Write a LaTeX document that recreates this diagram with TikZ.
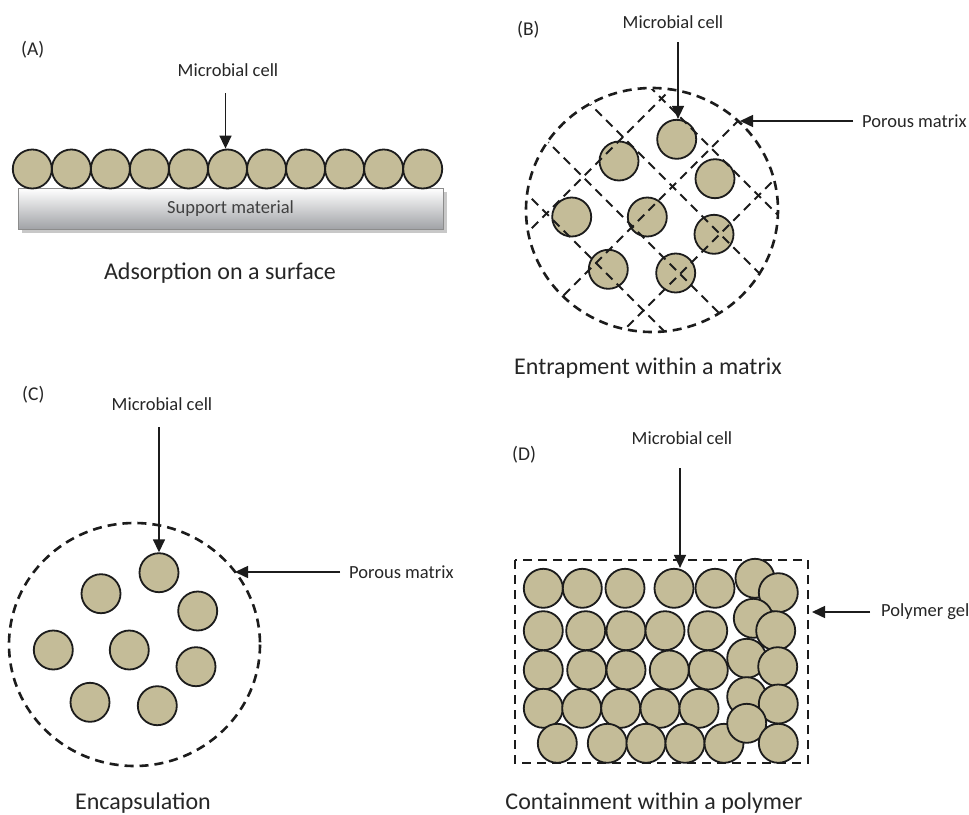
\documentclass[tikz,border=0pt]{standalone}
\usepackage{fontspec}
\setmainfont{Carlito}
\usetikzlibrary{arrows.meta,shadows}
\definecolor{cellfill}{RGB}{196,188,152}
\definecolor{ink}{RGB}{28,28,28}
\definecolor{txt}{RGB}{38,38,38}
\definecolor{supbot}{RGB}{160,162,166}
\definecolor{supedge}{RGB}{140,140,140}
\definecolor{supshadow}{RGB}{200,200,200}
\begin{document}
\begin{tikzpicture}[x=1pt,y=-1pt,
 cell/.style={circle,draw=ink,line width=1.8pt,fill=cellfill,minimum size=39pt,inner sep=0pt},
 lbl/.style={font=\fontsize{18.5}{20}\selectfont,text=txt,inner sep=0pt},
 captxt/.style={font=\fontsize{24}{26}\selectfont,text=txt,inner sep=0pt},
 tagtxt/.style={font=\fontsize{19.5}{22}\selectfont,text=txt,inner sep=0pt,anchor=west},
 arr/.style={draw=ink,line width=1.5pt,-{Triangle[length=13pt,width=12pt]}},
 dashb/.style={draw=ink,line width=2.6pt,dash pattern=on 9pt off 6pt},
 gridl/.style={draw=ink,line width=2pt,dash pattern=on 9pt off 6pt},
]
\useasboundingbox[fill=white] (0,0) rectangle (969,814);

% ---------------- Panel A ----------------
\node[tagtxt] (tA) at (21,50) {(A)};
\node[rectangle,draw=supedge,line width=1pt,top color=white,bottom color=supbot,
      minimum width=425pt,minimum height=41pt,inner sep=0pt,
      drop shadow={shadow xshift=4pt,shadow yshift=-4pt,fill=supshadow,opacity=1},
      font=\fontsize{18.5}{20}\selectfont,text=black!75] (sup) at (230.5,208.75) {Support material};
\foreach \i in {1,...,11} \node[cell] (a\i) at ({32.3+(\i-1)*39.04},169) {};
\node[lbl] (mcA) at (228,70) {Microbial cell};
\coordinate (mA) at (225.5,93);
\draw[arr] (mA) -- (mA |- a6.north);
\node[captxt] (capA) at (220,273) {Adsorption on a surface};

% ---------------- Panel B ----------------
\node[tagtxt] (tB) at (517,30) {(B)};
\node[cell] (b1) at (676.7,139.3) {};
\node[cell] (b2) at (619,161) {};
\node[cell] (b3) at (715,178.7) {};
\node[cell] (b4) at (571.7,217) {};
\node[cell] (b5) at (647.3,217) {};
\node[cell] (b6) at (714,234.3) {};
\node[cell] (b7) at (608.3,269.3) {};
\node[cell] (b8) at (675.7,273) {};
\begin{scope}
\clip (652,210) ellipse [x radius=125, y radius=121];
\foreach \c in {760,859,954} \draw[gridl] (500,\c-500) -- (800,\c-800);
\foreach \d in {563,486,406,333} \draw[gridl] (500,500-\d) -- (800,800-\d);
\end{scope}
\draw[dashb] (652,210) ellipse [x radius=126, y radius=122];
\node[lbl] (mcB) at (673,22) {Microbial cell};
\coordinate (mB) at (678,42);
\draw[arr] (mB) -- (mB |- b1.north);
\node[lbl,anchor=west] (pmB) at (862,121) {Porous matrix};
\coordinate (pB) at (740,121);
\draw[arr] ([xshift=-9pt]pmB.west) -- (pB);
\node[captxt] (capB) at (648,368) {Entrapment within a matrix};

% ---------------- Panel C ----------------
\node[tagtxt] (tC) at (22,395) {(C)};
\draw[dashb] (134.5,644.5) ellipse [x radius=125.5, y radius=121.5];
\node[cell] (c1) at (159,572.7) {};
\node[cell] (c2) at (101,593.7) {};
\node[cell] (c3) at (197.7,611) {};
\node[cell] (c4) at (53.3,650) {};
\node[cell] (c5) at (129.3,650) {};
\node[cell] (c6) at (196,666.7) {};
\node[cell] (c7) at (90,702.3) {};
\node[cell] (c8) at (157.3,705.7) {};
\node[lbl] (mcC) at (162,404) {Microbial cell};
\coordinate (mC) at (159,427);
\draw[arr] (mC) -- (mC |- c1.north);
\node[lbl,anchor=west] (pmC) at (349,572) {Porous matrix};
\coordinate (pC) at (235,572);
\draw[arr] ([xshift=-9pt]pmC.west) -- (pC);
\node[captxt] (capC) at (143,803) {Encapsulation};

% ---------------- Panel D ----------------
\node[tagtxt] (tD) at (512,455) {(D)};
\draw[dashb] (515,560) rectangle (808,763);
\foreach \x [count=\k] in {543.3,582.3,625,674,715} \node[cell] (d1\k) at (\x,588.3) {};
\foreach \x [count=\k] in {543.3,585.7,626,665,707.7} \node[cell] (d2\k) at (\x,630.7) {};
\foreach \x [count=\k] in {543.3,586.7,626,669.3,708.3} \node[cell] (d3\k) at (\x,670) {};
\foreach \x [count=\k] in {543.3,581.7,620.7,660,699} \node[cell] (d4\k) at (\x,708.3) {};
\foreach \x [count=\k] in {557.3,607.3,646,685,724} \node[cell] (d5\k) at (\x,743.3) {};
\node[cell] (e1) at (755,578.3) {};
\node[cell] (e2) at (778.3,592.7) {};
\node[cell] (e3) at (753.3,618.3) {};
\node[cell] (e4) at (775.7,630.7) {};
\node[cell] (e5) at (746.7,658.3) {};
\node[cell] (e6) at (777.7,666.7) {};
\node[cell] (e7) at (746.7,696.7) {};
\node[cell] (e8) at (778.3,704) {};
\node[cell] (e9) at (746.7,723.3) {};
\node[cell] (e10) at (778.3,743.3) {};
\node[lbl] (mcD) at (682,438) {Microbial cell};
\coordinate (mD) at (680,468);
\draw[arr] (mD) -- (mD |- d14.north);
\node[lbl,anchor=west] (pgD) at (881,612) {Polymer gel};
\coordinate (pD) at (812,612);
\draw[arr] ([xshift=-11pt]pgD.west) -- (pD);
\node[captxt] (capD) at (654,803) {Containment within a polymer};
\end{tikzpicture}
\end{document}
